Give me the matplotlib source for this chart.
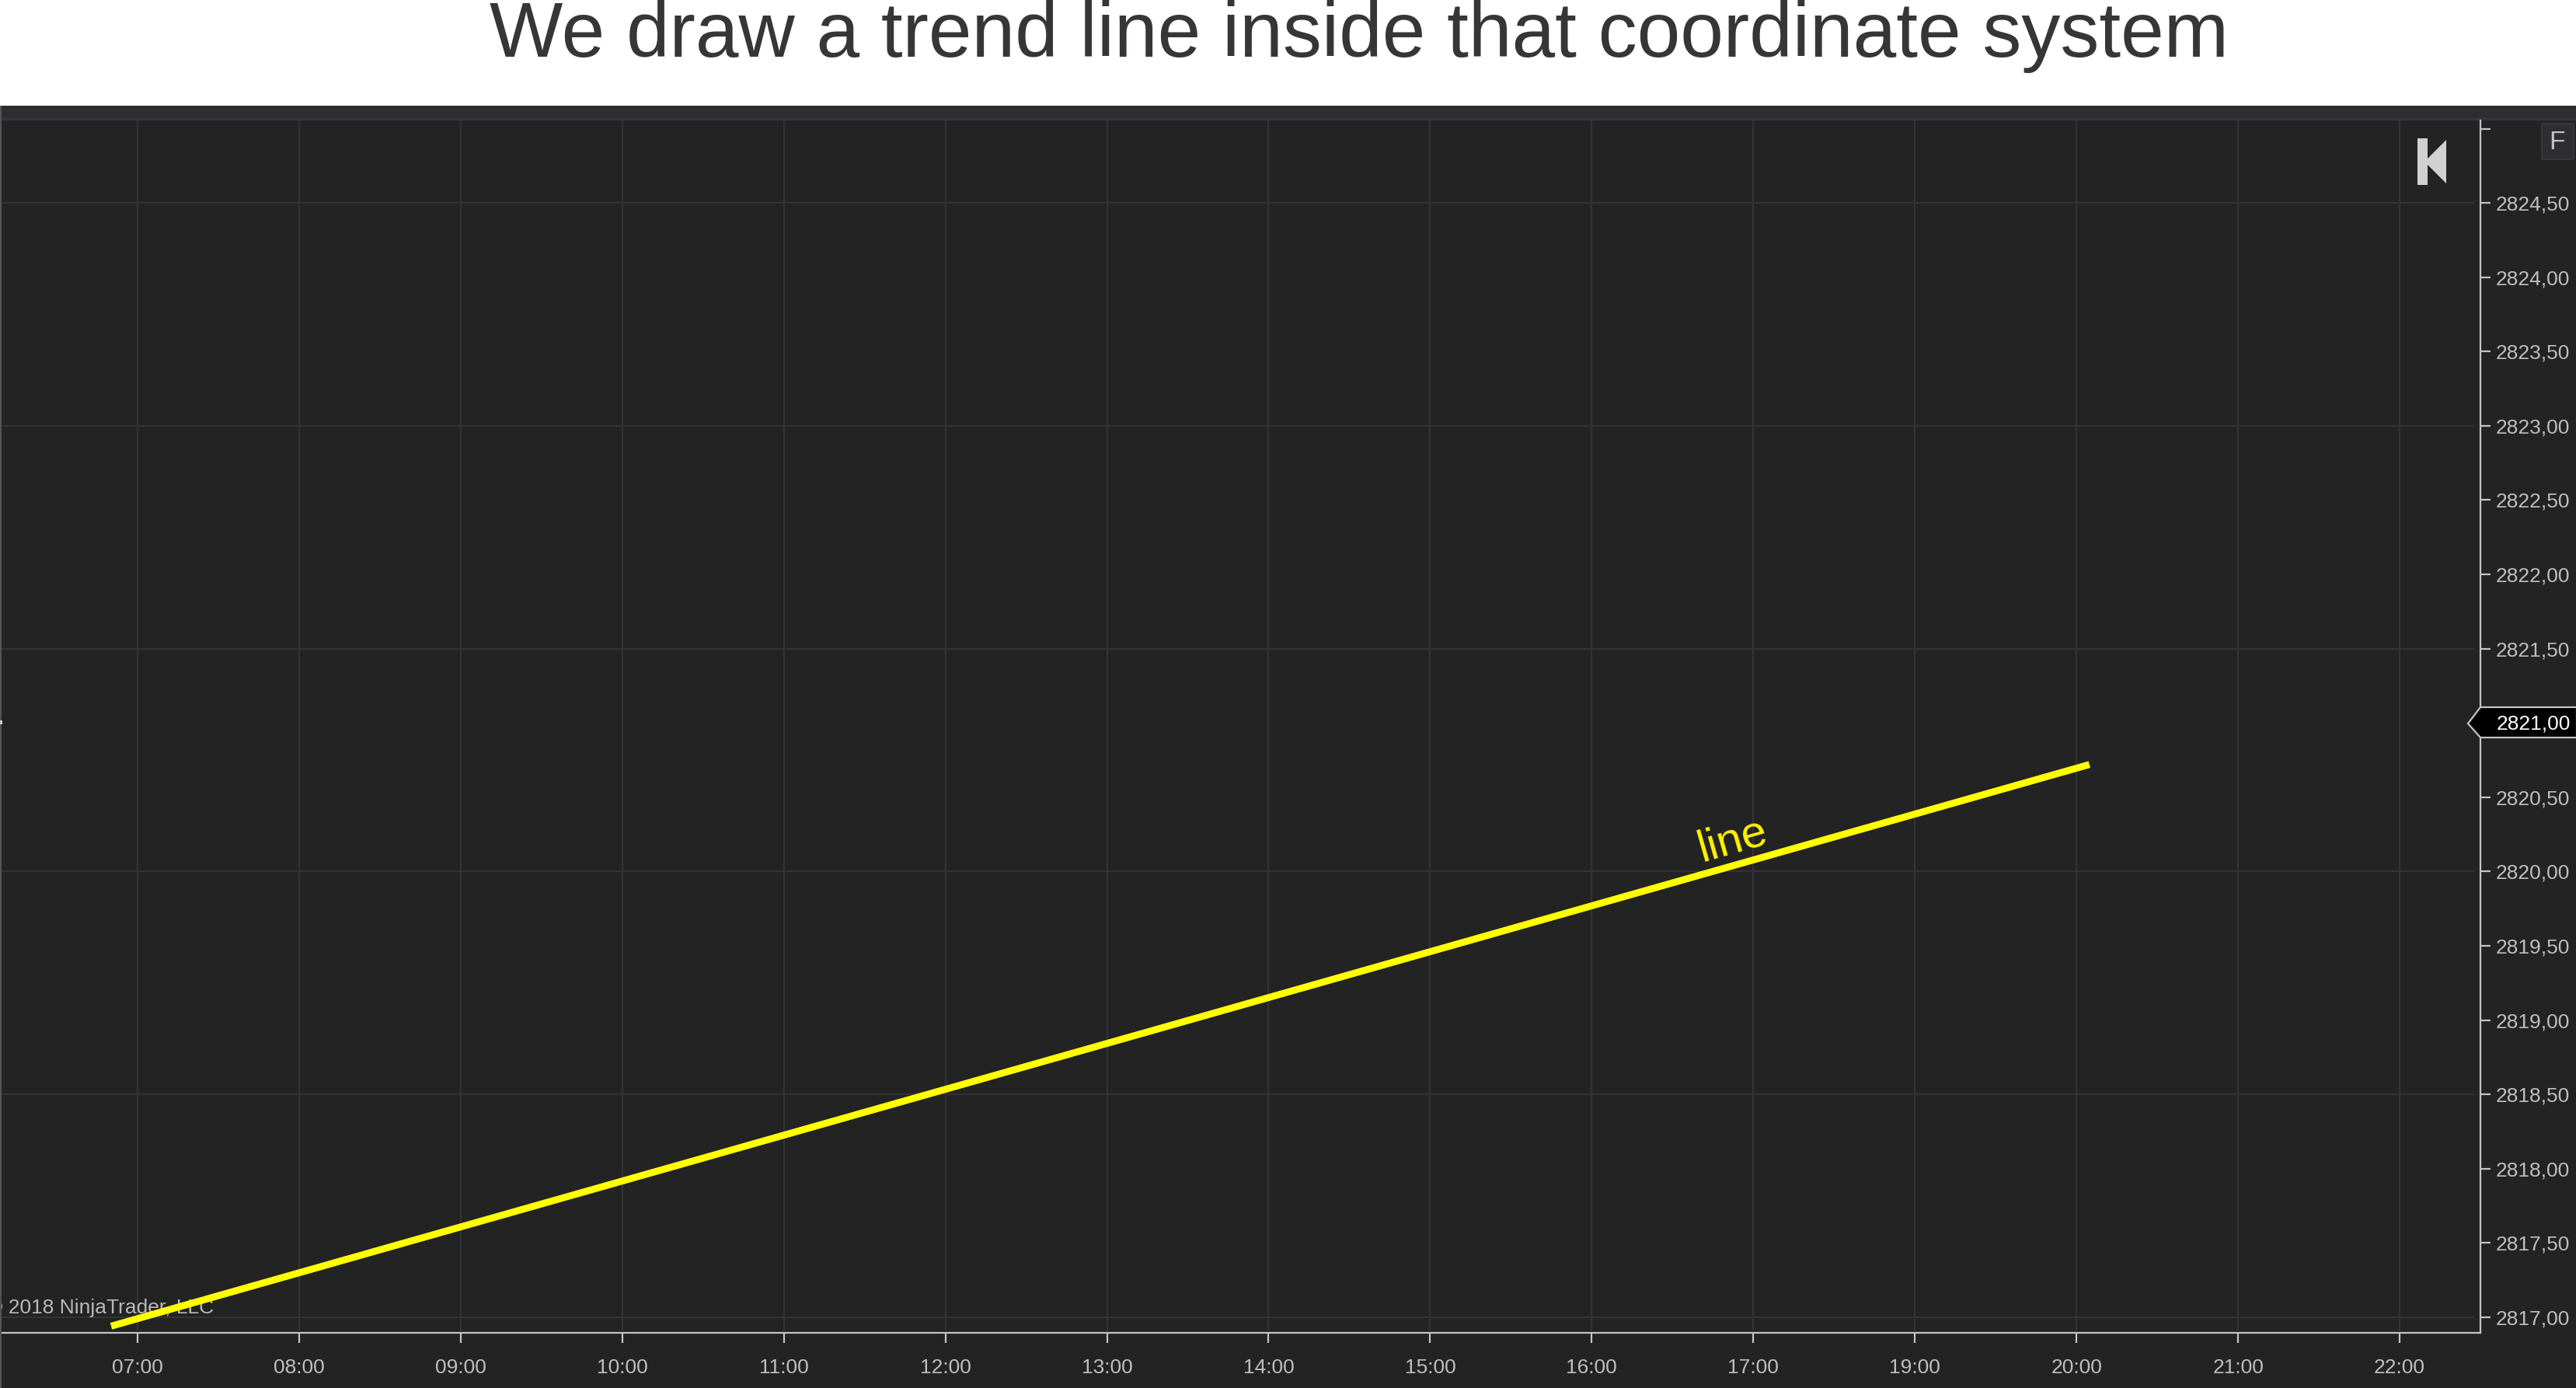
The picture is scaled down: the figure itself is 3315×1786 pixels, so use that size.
import matplotlib
matplotlib.use('Agg')
import matplotlib.pyplot as plt
from matplotlib.patches import Polygon, Rectangle

W, H = 3316, 1786

# session axis: 18:00 is not on the chart, the labels jump from 17:00 to 19:00
time_labels = ['07:00', '08:00', '09:00', '10:00', '11:00', '12:00', '13:00', '14:00',
               '15:00', '16:00', '17:00', '19:00', '20:00', '21:00', '22:00']
price_ticks = [2817.0, 2817.5, 2818.0, 2818.5, 2819.0, 2819.5, 2820.0, 2820.5, 2821.0,
               2821.5, 2822.0, 2822.5, 2823.0, 2823.5, 2824.0, 2824.5, 2825.0]
price_labels = ['2817,00', '2817,50', '2818,00', '2818,50', '2819,00', '2819,50', '2820,00', '2820,50', '',
                '2821,50', '2822,00', '2822,50', '2823,00', '2823,50', '2824,00', '2824,50', '']
price_grid = [2817.0, 2818.5, 2820.0, 2821.5, 2823.0, 2824.5]
current_price = '2821,00'

# trend line end points (bar position, price)
line_x = [-0.163, 12.08]
line_y = [2816.94, 2820.72]

BG = '#232323'
plt.rcParams['font.family'] = ['Liberation Sans', 'DejaVu Sans']


def px(x, y):
    return (x / W, 1 - y / H)


fig = plt.figure(figsize=(W / 100, H / 100), dpi=100, facecolor='white')
tr = fig.transFigure

# dark panel behind the chart, with the lighter strip on top
fig.add_artist(Rectangle((0, 0), 1, 1 - 136 / H, transform=tr, fc=BG, ec='none', zorder=-3))
fig.add_artist(Rectangle(px(0, 153), 1, 17 / H, transform=tr, fc='#2e2e32', ec='none', zorder=-2))
fig.add_artist(Rectangle(px(0, 155), 1, 3 / H, transform=tr, fc='#38383a', ec='none', zorder=-1))

ax = fig.add_axes([0, 1 - 1715 / H, 3192 / W, (1715 - 155) / H], zorder=1)
ax.patch.set_alpha(0)
ax.set_xlim(-0.851, 14.5)
ax.set_ylim(2816.895, 2825.055)

ax.set_xticks(range(len(time_labels)))
ax.set_xticklabels(time_labels)
ax.set_yticks(price_ticks)
ax.set_yticklabels(price_labels)
ax.yaxis.tick_right()
ax.tick_params(axis='both', color='#c4c4c4', labelcolor='#bebebe', labelsize=19, length=9.5, width=1.6)
ax.tick_params(axis='x', pad=14)
ax.tick_params(axis='y', pad=4.5)

for s in ['top', 'left']:
    ax.spines[s].set_visible(False)
for s in ['right', 'bottom']:
    ax.spines[s].set_color('#c4c4c4')
    ax.spines[s].set_linewidth(1.6)

ax.vlines(range(len(time_labels)), ax.get_ylim()[0] + 0.015, ax.get_ylim()[1], color='#333333', lw=1.6, zorder=1)
ax.hlines(price_grid, ax.get_xlim()[0], ax.get_xlim()[1] - 0.04, color='#333333', lw=1.6, zorder=1)

ax.text(-0.93, 2817.06, '© 2018 NinjaTrader, LLC', color='#b8b8b8', fontsize=19, va='center', ha='left', zorder=2)
ax.plot(line_x, line_y, color='#ffff00', lw=6.4, solid_capstyle='butt', zorder=3)
ax.text(9.906, 2820.07, 'line', color='#fff200', fontsize=42, rotation=16, ha='center', va='bottom',
        rotation_mode='anchor', zorder=4)

fig.text(1749 / W, 1 - 73 / H, 'We draw a trend line inside that coordinate system', color='#383536',
         fontsize=72, ha='center', va='baseline')

# price marker on the axis
marker = [px(3176, 931), px(3192, 910), px(3316, 910), px(3316, 949), px(3192, 949)]
fig.add_artist(Polygon(marker, closed=True, transform=tr, fc='#000000', ec='#c4c4c4', lw=1.6, zorder=5))
fig.text(3213 / W, 1 - 931 / H, current_price, color='white', fontsize=19, va='center', ha='left', zorder=6)

# chart trader buttons
fig.add_artist(Rectangle(px(3111, 238), 13 / W, 60 / H, transform=tr, fc='#d0d0d0', ec='none', zorder=5))
fig.add_artist(Polygon([px(3120, 208), px(3148, 180), px(3148, 236)], closed=True, transform=tr,
                       fc='#d0d0d0', ec='none', zorder=5))
fig.add_artist(Rectangle(px(3271, 205), 41 / W, 46 / H, transform=tr, fc='#2e2e30', ec='#3a3a3a', lw=1.2, zorder=5))
fig.text(3290 / W, 1 - 183 / H, 'F', color='#c4c4c4', fontsize=24, ha='center', va='center', zorder=6)

# left edge strip and the little cursor tick
fig.add_artist(Rectangle(px(0, 1786), 2 / W, (1786 - 136) / H, transform=tr, fc='#555555', ec='none', zorder=5))
fig.add_artist(Rectangle(px(0, 932), 3 / W, 5 / H, transform=tr, fc='#c8c8c8', ec='none', zorder=5))

plt.savefig('out.png', dpi=100)
